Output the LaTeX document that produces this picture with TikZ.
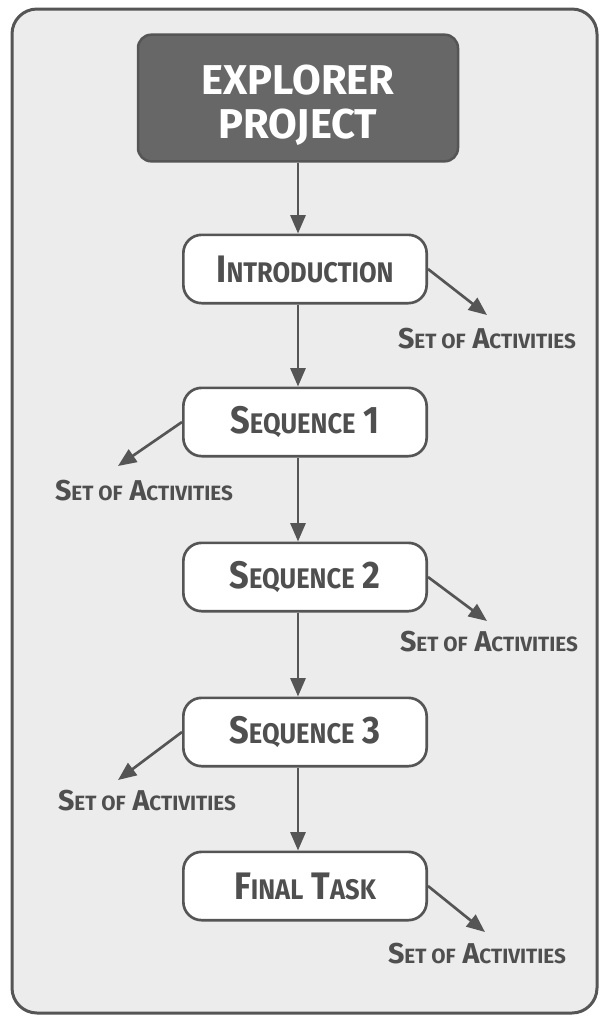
\documentclass[tikz,border=0pt]{standalone}
\usepackage{fontspec}
\setmainfont{Fira Sans}
\newfontfamily\narrowfont{Fira Sans}[FakeStretch=0.9]
\usetikzlibrary{arrows.meta}

\definecolor{framegray}{HTML}{555555}
\definecolor{panelgray}{HTML}{ECECEC}
\definecolor{titlegray}{HTML}{676767}
\definecolor{inkgray}{HTML}{4F4F4F}

% fake small caps: size is set by the node style
\newcommand\sm[1]{{\fontsize{\smsize}{\smsize}\selectfont #1}}

\tikzset{
  mainbox/.style={draw=framegray, fill=titlegray, line width=1.5pt, rounded corners=8pt,
    minimum width=192pt, minimum height=76pt, inner sep=0pt, align=center, text=white,
    font={\fontsize{25}{26.4}\selectfont\bfseries}},
  stagebox/.style={draw=framegray, fill=white, line width=1.6pt, rounded corners=11pt,
    minimum width=146pt, minimum height=41pt, inner sep=0pt, text=inkgray,
    font={\narrowfont\def\smsize{17}\fontsize{23}{26}\selectfont\bfseries}},
  actlabel/.style={anchor=base, inner sep=0pt, text=inkgray,
    font={\def\smsize{12.4}\fontsize{17.2}{19}\selectfont\bfseries}},
  link/.style={draw=framegray, line width=1.6pt, -{Triangle[length=11pt,width=9pt]}},
}

\begin{document}
\begin{tikzpicture}[x=0.6pt, y=-0.6pt, line join=round]
	\useasboundingbox (0,0) rectangle (600,1017);
	\draw[framegray, fill=panelgray, line width=1.8pt, rounded corners=15pt] (12,9) rectangle (597,1013);
	% boxes
	\node[mainbox] (project) at (298,98) {\rule{0pt}{27pt}EXPLORER\\PROJECT};
	\node[stagebox] (intro) at (305,269) {I\sm{NTRODUCTION}};
	\node[stagebox] (seq1) at (305,422) {S\sm{EQUENCE} 1};
	\node[stagebox] (seq2) at (305,577) {S\sm{EQUENCE} 2};
	\node[stagebox] (seq3) at (305,732) {S\sm{EQUENCE} 3};
	\node[stagebox] (final) at (305,886) {F\sm{INAL} T\sm{ASK}};
	% main line
	\draw[link] (project.south) -- (project.south |- intro.north);
	\draw[link] (project.south |- intro.south) -- (project.south |- seq1.north);
	\draw[link] (project.south |- seq1.south) -- (project.south |- seq2.north);
	\draw[link] (project.south |- seq2.south) -- (project.south |- seq3.north);
	\draw[link] (project.south |- seq3.south) -- (project.south |- final.north);
	% activities
	\coordinate (tip1) at (487,315);
	\coordinate (tip2) at (118,466);
	\coordinate (tip3) at (487,621);
	\coordinate (tip4) at (118,780);
	\coordinate (tip5) at (485,932);
	\node[actlabel] (act1) at (487,348) {S\sm{ET OF} A\sm{CTIVITIES}};
	\node[actlabel] (act2) at (144,500) {S\sm{ET OF} A\sm{CTIVITIES}};
	\node[actlabel] (act3) at (489,651) {S\sm{ET OF} A\sm{CTIVITIES}};
	\node[actlabel] (act4) at (147,810) {S\sm{ET OF} A\sm{CTIVITIES}};
	\node[actlabel] (act5) at (477,963) {S\sm{ET OF} A\sm{CTIVITIES}};
	\draw[link] (intro.east) -- (tip1);
	\draw[link] (seq1.west) -- (tip2);
	\draw[link] (seq2.east) -- (tip3);
	\draw[link] (seq3.west) -- (tip4);
	\draw[link] (final.east) -- (tip5);
\end{tikzpicture}
\end{document}
